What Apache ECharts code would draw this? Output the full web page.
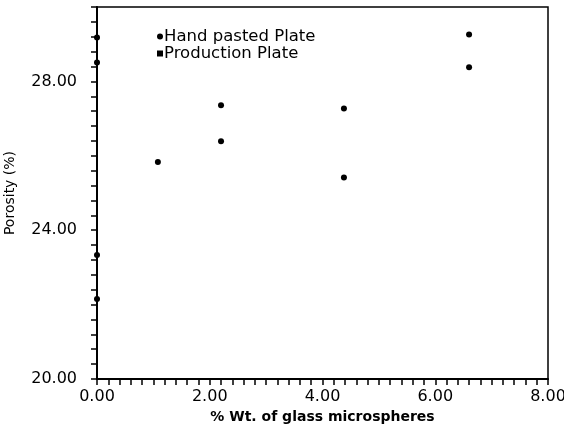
<!DOCTYPE html>
<html>
<head>
<meta charset="utf-8">
<script src="https://cdn.jsdelivr.net/npm/echarts@6/dist/echarts.min.js"></script>
<style>
  html, body { margin: 0; padding: 0; background: #fff; }
  #chart { width: 564px; height: 428px; }
</style>
</head>
<body>
<div id="chart"></div>
<script>
// data
var seriesNames = ["Hand pasted Plate", "Production Plate"];
var handPasted = [[0, 29.18], [0, 23.33], [2.2, 27.36], [4.38, 27.27], [6.6, 29.26]];
var production = [[0, 28.51], [0, 22.15], [1.08, 25.83], [2.2, 26.39], [4.38, 25.42], [6.6, 28.38]];
var xLabelStep = 2;
var yLabelStep = 4;

function isStep(v, step) {
  var r = Math.abs(v / step - Math.round(v / step));
  return r < 1e-6;
}

var chart = echarts.init(document.getElementById("chart"));
var font = "DejaVu Sans";
chart.setOption({
  animation: false,
  backgroundColor: "#fff",
  textStyle: { fontFamily: font, color: "#000" },
  grid: {
    left: 97,
    right: 16,
    top: 7,
    bottom: 49,
    outerBoundsMode: "none",
    containLabel: false,
    show: true,
    borderColor: "#000",
    borderWidth: 1.5,
  },
  legend: {
    orient: "vertical",
    left: 152,
    top: 23,
    itemGap: 0,
    itemWidth: 6,
    itemHeight: 6,
    textStyle: { fontFamily: font, fontSize: 16.5, lineHeight: 15, color: "#000", padding: [0, 0, 0, -4] },
    data: [
      { name: seriesNames[0], icon: "circle" },
      { name: seriesNames[1], icon: "rect" },
    ],
  },
  xAxis: {
    type: "value",
    min: 0,
    max: 8,
    interval: 0.2,
    name: "% Wt. of glass microspheres",
    nameLocation: "middle",
    nameGap: 29,
    nameTextStyle: { fontFamily: font, fontSize: 14, fontWeight: "bold", color: "#000" },
    splitLine: { show: false },
    axisLine: { lineStyle: { color: "#000", width: 2 } },
    axisTick: { length: 6, lineStyle: { color: "#000", width: 1.5 } },
    axisLabel: {
      fontFamily: font,
      fontSize: 16,
      color: "#000",
      margin: 10,
      formatter: function (v) {
        return isStep(v, xLabelStep) ? v.toFixed(2) : "";
      },
    },
  },
  yAxis: {
    type: "value",
    min: 20,
    max: 30,
    interval: 0.4,
    name: "Porosity (%)",
    nameLocation: "middle",
    nameGap: 80,
    nameTextStyle: { fontFamily: font, fontSize: 14, color: "#000" },
    splitLine: { show: false },
    axisLine: { lineStyle: { color: "#000", width: 2 } },
    axisTick: { length: 6, lineStyle: { color: "#000", width: 1.5 } },
    axisLabel: {
      fontFamily: font,
      fontSize: 16,
      color: "#000",
      margin: 20,
      formatter: function (v) {
        return isStep(v, yLabelStep) ? v.toFixed(2) : "";
      },
    },
  },
  series: [
    {
      name: seriesNames[0],
      type: "scatter",
      symbol: "circle",
      symbolSize: 6,
      itemStyle: { color: "#000", opacity: 1 },
      data: handPasted,
    },
    {
      name: seriesNames[1],
      type: "scatter",
      symbol: "circle",
      symbolSize: 6,
      itemStyle: { color: "#000", opacity: 1 },
      data: production,
    },
  ],
});
</script>
</body>
</html>
